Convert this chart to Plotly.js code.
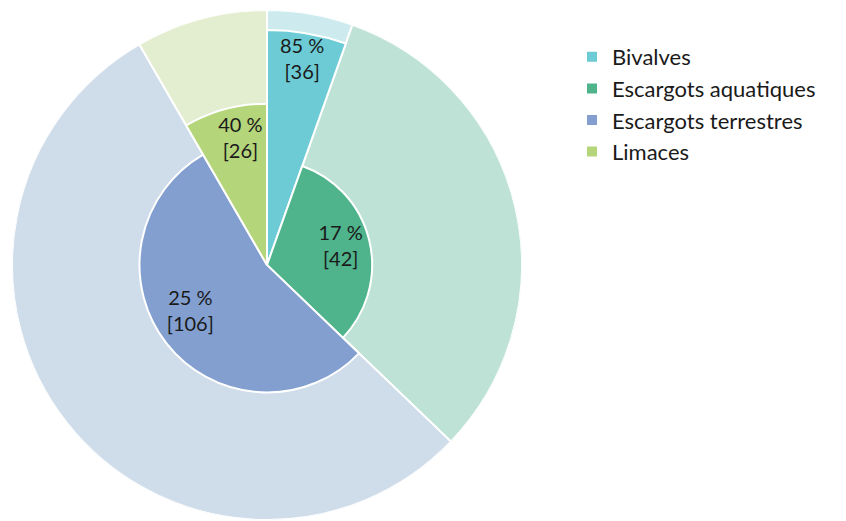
<!DOCTYPE html>
<html>
<head>
<meta charset="utf-8">
<script src="https://cdn.plot.ly/plotly-3.0.1.min.js"></script>
<style>html,body{margin:0;padding:0;background:#fff;}#chart{width:846px;height:521px;}</style>
</head>
<body>
<div id="chart"></div>
<script>
// ---- data ----
const categories = ['Bivalves', 'Escargots aquatiques', 'Escargots terrestres', 'Limaces'];
const counts = [36, 42, 106, 26];          // bracketed numbers
const percents = [85, 17, 25, 40];         // percentage labels

// ---- style ----
const darkColors = ['#6dcbd5', '#4fb38b', '#829fcf', '#b5d57a'];
const lightColors = ['#cdebef', '#bee3d6', '#cfdcea', '#e3edd0'];
const labelRadiusFactor = [0.88, 0.72, 0.71, 0.79];
const labelThetaShift = [0, 0, 6, 3];
const FONT = 'Lato, "Open Sans", sans-serif';

// derived geometry from the data
const totals = counts.map((c, i) => c / (percents[i] / 100));
const grand = totals.reduce((a, b) => a + b, 0);
const widths = totals.map(t => t / grand * 360);
const mids = [];
let acc = 0;
widths.forEach(w => { mids.push(acc + w / 2); acc += w; });
const innerR = percents.map(p => Math.sqrt(p / 100));

const traces = [];
// outer light ring (full radius)
traces.push({
  type: 'barpolar',
  theta: mids,
  width: widths,
  r: categories.map(() => 1),
  marker: {color: lightColors, line: {color: '#ffffff', width: 2}},
  showlegend: false,
  hoverinfo: 'skip'
});
// dark wedges, one per category for legend
categories.forEach((c, i) => {
  traces.push({
    type: 'barpolar',
    name: c,
    legendgroup: c,
    theta: [mids[i]],
    width: [widths[i]],
    r: [innerR[i]],
    marker: {color: darkColors[i], line: {color: '#ffffff', width: 2}},
    hoverinfo: 'name'
  });
});
// labels
traces.push({
  type: 'scatterpolar',
  mode: 'text',
  theta: mids.map((m, i) => m + labelThetaShift[i]),
  r: innerR.map((r, i) => r * labelRadiusFactor[i]),
  text: percents.map((p, i) => p + ' %<br>[' + counts[i] + ']'),
  textposition: 'middle center',
  textfont: {family: FONT, size: 20, color: '#1a1a1a'},
  showlegend: false,
  hoverinfo: 'skip'
});

const layout = {
  width: 846, height: 521,
  margin: {l: 0, r: 0, t: 0, b: 0},
  paper_bgcolor: '#ffffff',
  font: {family: FONT},
  polar: {
    domain: {x: [11 / 846, 523 / 846], y: [1 / 521, 511 / 521]},
    barmode: 'overlay',
    bgcolor: 'rgba(0,0,0,0)',
    hole: 0,
    radialaxis: {range: [0, 1], visible: false, showgrid: false},
    angularaxis: {rotation: 90, direction: 'clockwise', visible: false, showgrid: false}
  },
  legend: {
    x: 572 / 846, xanchor: 'left',
    y: 1 - 36 / 521, yanchor: 'top',
    font: {family: FONT, size: 22, color: '#1a1a1a'},
    tracegroupgap: 0,
    bgcolor: 'rgba(0,0,0,0)'
  }
};

Plotly.newPlot('chart', traces, layout, {displayModeBar: false, staticPlot: true});
</script>
</body>
</html>
